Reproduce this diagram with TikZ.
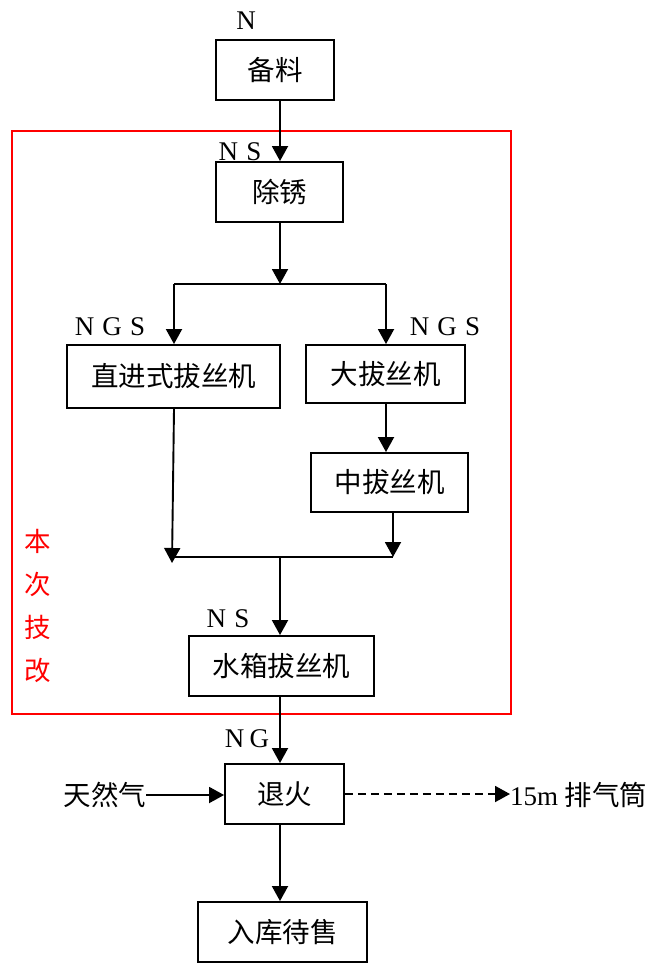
\documentclass[tikz,border=0pt]{standalone}
\usepackage{fontspec}
\setmainfont{Liberation Serif}
\newfontfamily\cjk{Noto Sans CJK SC}
\usetikzlibrary{arrows.meta}
\begin{document}
\begin{tikzpicture}[x=1pt,y=-1pt,
  box/.style={draw,line width=1.9pt,minimum height=60pt,inner sep=0pt,font=\cjk\fontsize{27.5}{30}\selectfont},
  lbl/.style={inner sep=0pt,font=\fontsize{27}{30}\selectfont},
  cjktext/.style={inner sep=0pt,font=\cjk\fontsize{27.5}{30}\selectfont},
  conn/.style={line width=1.9pt},
  arr/.style={conn,-{Triangle[length=15pt,width=16pt]}},
  frame/.style={draw=red,line width=1.4pt}
]
\useasboundingbox (0,0) rectangle (650,963);

% red frame
\draw[frame] (12,131) rectangle (511,714);
\node[text=red,align=center,inner sep=0pt,font=\cjk\fontsize{26.5}{42.7}\selectfont] (gai) at (38,606) {本\\次\\技\\改};

% boxes
\node[box,minimum width=118pt] (b1) at (275,70) {备料};
\node[box,minimum width=127pt] (b2) at (279.5,192) {除锈};
\node[box,minimum width=213pt,minimum height=63pt] (b3) at (173.5,376.5) {直进式拔丝机};
\node[box,minimum width=159pt,minimum height=58pt] (b4) at (385.5,374) {大拔丝机};
\node[box,minimum width=157pt,minimum height=59pt] (b5) at (389.5,482.5) {中拔丝机};
\node[box,minimum width=185pt] (b6) at (281.5,666) {水箱拔丝机};
\node[box,minimum width=119pt] (b7) at (284.5,794) {退火};
\node[box,minimum width=169pt] (b8) at (282.5,932) {入库待售};

% labels
\node[lbl] (l1) at (246,21) {N};
\node[lbl] (l2) at (240,152) {N\hspace{0.3em}S};
\node[lbl] (l3) at (110,327) {N\hspace{0.3em}G\hspace{0.3em}S};
\node[lbl] (l4) at (445,327) {N\hspace{0.3em}G\hspace{0.3em}S};
\node[lbl] (l5) at (228,619) {N\hspace{0.3em}S};
\node[lbl] (l6) at (247,739) {N\hspace{0.2em}G};

% coordinates
\coordinate (xm) at (280,0);
\coordinate (sp) at (280,284);
\coordinate (spl) at (174,284);
\coordinate (spr) at (386,284);
\coordinate (jl) at (172,563);
\coordinate (jl2) at (172,557);
\coordinate (jr) at (393,557);
\coordinate (jm) at (280,557);

% connectors
\draw[arr] (b1.south -| xm) -- (b2.north -| xm);
\draw[arr] (b2.south -| xm) -- (sp);
\draw[conn] (spl) -- (spr);
\draw[arr] (spl) -- (b3.north -| spl);
\draw[arr] (spr) -- (b4.north -| spr);
\draw[arr] (b4.south -| spr) -- (b5.north -| spr);
\draw[arr] (b3.south -| spl) -- (jl);
\draw[arr] (b5.south -| jr) -- (jr);
\draw[conn] (jl2) -- (jr);
\draw[arr] (jm) -- (b6.north -| xm);
\draw[arr] (b6.south -| xm) -- (b7.north -| xm);
\draw[arr] (b7.south -| xm) -- (b8.north -| xm);

% side flows
\node[cjktext] (gas) at (105,795) {天然气};
\draw[arr] (gas.east) -- (gas.east -| b7.west);
\node[anchor=west,inner sep=0pt,font=\fontsize{27}{30}\selectfont] (ex) at (510,795) {15m {\cjk\fontsize{27.5}{30}\selectfont 排气筒}};
\draw[arr,dash pattern=on 8pt off 5pt] (b7.east) -- (b7.east -| ex.west);
\end{tikzpicture}
\end{document}
